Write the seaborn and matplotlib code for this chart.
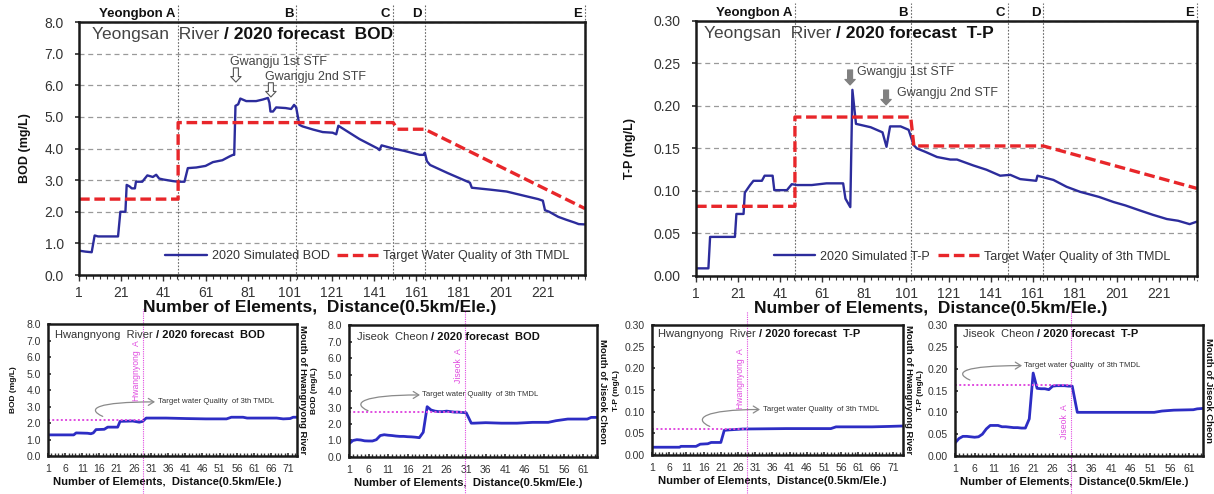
import numpy as np
import matplotlib
matplotlib.use('Agg')
import matplotlib.pyplot as plt
from matplotlib.path import Path
from matplotlib.patches import FancyArrowPatch
from matplotlib.ticker import FixedLocator, MultipleLocator, FormatStrFormatter
import seaborn as sns

# ==================================================================
# DATA
# ==================================================================
# --- Yeongsan River main stem, BOD (mg/L) ---
ys_bod_elem = [1, 4, 7, 8.4, 10, 19.5, 20.6, 23, 23.6, 25, 26, 27.5, 28, 31, 33.4, 35,
               36, 37.6, 39, 41, 45.5, 48, 51, 52.6, 56.6, 61, 64.5, 69, 72.4, 74,
               74.6, 75.2, 76.5, 77.5, 80.3, 85, 88.2, 90.6, 91.3, 91.8, 93, 94.5,
               99, 101.6, 103, 104, 105.5, 107, 112, 116.6, 121.3, 123, 124, 134,
               142.7, 143.5, 144.5, 150, 155, 162.6, 164.5, 165, 166, 167.5, 176, 186.4,
               187.3, 196, 203.8, 212.5, 218.8, 221, 222, 224, 228.3, 232, 236, 238, 241]
ys_bod_sim = [0.77, 0.74, 0.72, 1.25, 1.22, 1.22, 2.0, 2.0, 2.85, 2.8, 2.74, 2.74, 2.95,
              2.95, 3.15, 3.12, 3.1, 3.17, 3.05, 3.02, 2.97, 2.95, 2.95, 3.38, 3.4, 3.45,
              3.57, 3.63, 3.75, 3.8, 3.8, 5.35, 5.4, 5.58, 5.5, 5.5, 5.55, 5.6, 5.45,
              5.17, 5.17, 5.3, 5.28, 5.25, 5.38, 5.3, 4.75, 4.7, 4.6, 4.52, 4.5, 4.45,
              4.72, 4.3, 4.0, 3.95, 4.1, 4.0, 3.93, 3.8, 3.8, 3.87, 3.6, 3.48, 3.22, 2.92,
              2.76, 2.7, 2.64, 2.5, 2.4, 2.35, 2.05, 2.0, 1.84, 1.75, 1.66, 1.61, 1.6]
ys_bod_tgt_elem = [1, 48, 48, 150, 152, 165, 241]
ys_bod_tgt = [2.4, 2.4, 4.82, 4.82, 4.61, 4.61, 2.1]
ys_bod_sections = [48, 104, 150, 165, 241]

# --- Yeongsan River main stem, T-P (mg/L) ---
ys_tp_elem = [1, 6.9, 7.7, 19.5, 20.2, 23.6, 24.2, 26.7, 28.3, 32.3, 33.6, 37.4, 38.2,
              44.2, 46.5, 49, 56, 63, 70.9, 72, 74.3, 75.3, 77, 84, 89.6, 91.5, 93.2,
              98.2, 102, 104.4, 106, 110, 115.5, 121.8, 125, 132.8, 139, 145.5, 150.3,
              155, 162.6, 163.2, 170.8, 177, 183.5, 192.5, 199.4, 205, 212, 218,
              224.7, 230, 235.5, 239]
ys_tp_sim = [0.009, 0.009, 0.046, 0.046, 0.073, 0.073, 0.098, 0.107, 0.112, 0.112, 0.118,
             0.118, 0.101, 0.101, 0.108, 0.107, 0.107, 0.109, 0.109, 0.091, 0.081, 0.219,
             0.179, 0.175, 0.169, 0.152, 0.176, 0.176, 0.172, 0.154, 0.150, 0.146, 0.140,
             0.137, 0.137, 0.130, 0.125, 0.118, 0.119, 0.114, 0.112, 0.118, 0.113, 0.105,
             0.099, 0.093, 0.087, 0.083, 0.077, 0.072, 0.067, 0.065, 0.061, 0.064]
ys_tp_tgt_elem = [1, 48, 48, 103, 104.5, 166, 239]
ys_tp_tgt = [0.082, 0.082, 0.187, 0.187, 0.153, 0.153, 0.103]
ys_tp_sections = [48, 103, 149, 166, 239]

section_names = ['Yeongbon A', 'B', 'C', 'D', 'E']
stf_names = ['Gwangju 1st STF', 'Gwangju 2nd STF']

# --- Hwangnyong River ---
hw_bod_elem = [1, 8.5, 9.2, 12.5, 13.5, 14.2, 15, 17.4, 18.4, 21.3, 22, 25.7, 27.6, 28.6,
               29.6, 35.4, 41.3, 47, 53, 54.4, 57.8, 59, 67.6, 69.5, 71.5, 72.4, 73.5]
hw_bod = [1.28, 1.28, 1.4, 1.38, 1.35, 1.4, 1.6, 1.62, 1.75, 1.75, 2.1, 2.12, 2.05, 2.1,
          2.3, 2.3, 2.27, 2.25, 2.25, 2.35, 2.35, 2.3, 2.3, 2.25, 2.27, 2.35, 2.35]
hw_tp_elem = [1, 9, 9.4, 13.8, 15, 17.2, 18.2, 21, 22, 23.5, 27.4, 40, 53, 54.5, 65, 70, 74]
hw_tp = [0.018, 0.018, 0.02, 0.02, 0.025, 0.026, 0.029, 0.029, 0.057, 0.058, 0.060,
         0.061, 0.061, 0.065, 0.065, 0.066, 0.067]
hw_bod_target, hw_tp_target = 2.2, 0.061
hw_section = 28.7

# --- Jiseok Cheon ---
ji_elem = [1, 2, 3, 4, 5, 6, 7, 8, 9, 10, 11, 12, 13, 14, 15, 16, 17, 18, 19, 20, 21, 22,
           23, 24, 25, 26, 27, 28, 29, 30, 31, 32.3, 33, 36, 40, 44, 48, 52, 54, 57, 62,
           63, 64.5]
ji_bod = [0.8, 1.0, 1.05, 1.03, 0.98, 0.97, 0.97, 1.05, 1.3, 1.35, 1.32, 1.3, 1.27, 1.25,
          1.25, 1.23, 1.22, 1.2, 1.17, 1.5, 3.05, 2.85, 2.78, 2.75, 2.75, 2.78, 2.75, 2.72,
          2.72, 2.7, 2.68, 2.05, 2.05, 2.08, 2.05, 2.05, 2.1, 2.1, 2.2, 2.3, 2.3, 2.4, 2.4]
ji_tp = [0.03, 0.04, 0.045, 0.045, 0.044, 0.043, 0.044, 0.05, 0.062, 0.07, 0.07, 0.07,
         0.067, 0.067, 0.066, 0.065, 0.065, 0.064, 0.064, 0.085, 0.19, 0.155, 0.154, 0.154,
         0.152, 0.16, 0.161, 0.161, 0.161, 0.16, 0.16, 0.1, 0.1, 0.1, 0.1, 0.1, 0.1, 0.1,
         0.103, 0.105, 0.106, 0.108, 0.109]
ji_bod_target, ji_tp_target = 2.7, 0.163
ji_section = 30.8

# ==================================================================
# STYLE
# ==================================================================
SIM_BLUE = '#2c2c9c'
TGT_RED = '#e8262a'
MAG = '#e04ce0'
SUB_BLUE = '#2d2dc4'

sns.set_theme(style='white')
plt.rcParams['font.family'] = ['Liberation Sans', 'DejaVu Sans']

fig = plt.figure(figsize=(12.14, 4.94), dpi=100)
fig.patch.set_facecolor('white')


def frame(ax, lw=1.8):
    for s in ax.spines.values():
        s.set_visible(True)
        s.set_color('#1a1a1a')
        s.set_linewidth(lw)


def main_panel(ax, elem, sim, tgt_elem, tgt, sections, xmax, ymax, ystep, yfmt,
               param, title_x, ylabel_x, xlabel_x, leg_x, stf, hollow):
    ax.grid(axis='y', color='#9a9a9a', lw=0.9, ls=(0, (4, 3)))
    ax.set_axisbelow(True)
    n0 = len(ax.lines)
    sns.lineplot(x=elem, y=sim, ax=ax, color=SIM_BLUE, lw=1.7,
                 estimator=None, sort=False, legend=False)
    sns.lineplot(x=tgt_elem, y=tgt, ax=ax, color=TGT_RED, lw=2.4,
                 estimator=None, sort=False, legend=False)
    sim_line, tgt_line = ax.lines[n0], ax.lines[n0 + 1]
    tgt_line.set_linestyle((0, (3.2, 1.4)))

    for name, x in zip(section_names, sections):
        ax.axvline(x, ymin=-0.02, ymax=1.07, clip_on=False, color='#6a6a6a',
                   lw=0.8, ls=(0, (1.5, 1.5)), zorder=1)
        ax.annotate(name, xy=(x, 1), xycoords=('data', 'axes fraction'),
                    xytext=(-2, 6), textcoords='offset points', ha='right',
                    va='center', fontsize=9.5, fontweight='bold', color='#111',
                    annotation_clip=False)

    t = ax.text(title_x, 0.95, 'Yeongsan  River ', transform=ax.transAxes,
                fontsize=12.5, color='#444', va='center', ha='left')
    ax.annotate(f'/ 2020 forecast  {param}', xy=(1, 0.5), xycoords=t, fontsize=12.5,
                fontweight='bold', color='#111', va='center', ha='left')

    fc, ec = ('white', '#555') if hollow else ('#808080', '#808080')
    for name, (ax_x, y_top, y_tip, tx, ty) in zip(stf_names, stf):
        ax.annotate('', xy=(ax_x, y_tip), xytext=(ax_x, y_top),
                    arrowprops=dict(arrowstyle='simple,head_length=0.4,head_width=0.75,tail_width=0.36',
                                    fc=fc, ec=ec, lw=0.8, shrinkA=0, shrinkB=0,
                                    mutation_scale=10))
        ax.text(tx, ty, name, fontsize=9, color='#444', va='center', ha='left')

    ax.legend([sim_line, tgt_line],
              [f'2020 Simulated {param}', 'Target Water Quality of 3th TMDL'],
              loc='center', bbox_to_anchor=(leg_x, 0.075), ncol=2, frameon=False,
              fontsize=9, handlelength=3.3, handletextpad=0.4, columnspacing=0.6,
              labelcolor='#333')

    ax.set_xlim(1, xmax)
    ax.set_ylim(0, ymax)
    ax.xaxis.set_major_locator(FixedLocator(np.arange(1, 222, 20)))
    ax.xaxis.set_minor_locator(FixedLocator(np.arange(1, xmax + 0.1, 20 / 6)))
    ax.yaxis.set_major_locator(MultipleLocator(ystep))
    ax.yaxis.set_major_formatter(FormatStrFormatter(yfmt))
    ax.tick_params(which='both', bottom=True, left=True, direction='out',
                   color='#333', labelcolor='#333', labelsize=10)
    ax.tick_params(axis='x', which='major', length=4, width=1, pad=4)
    ax.tick_params(axis='x', which='minor', length=3, width=0.8)
    ax.tick_params(axis='y', which='major', length=3, pad=8)
    frame(ax)

    ax.set_xlabel('Number of Elements,  Distance(0.5km/Ele.)', fontsize=12.5,
                  fontweight='bold', color='#111')
    ax.xaxis.set_label_coords(xlabel_x, -0.1)
    ax.set_ylabel(f'{param} (mg/L)', fontsize=9, fontweight='bold', color='#111')
    ax.yaxis.set_label_coords(ylabel_x, 0.5)


def sub_panel(ax, elem, vals, target, sec_x, sec_name, sec_y, xmax, last_tick,
              ymax, ystep, yfmt, river, param, title_xy, mouth, swoosh):
    sns.lineplot(x=elem, y=vals, ax=ax, color=SUB_BLUE, lw=2.0,
                 estimator=None, sort=False, legend=False)
    sns.lineplot(x=[1, sec_x], y=[target, target], ax=ax, color=MAG, lw=1.4,
                 estimator=None, sort=False, legend=False)
    ax.lines[-1].set_linestyle((0, (1, 1.2)))
    ax.axvline(sec_x, ymin=-0.29, ymax=1.11, clip_on=False, color=MAG, lw=0.8,
               ls=(0, (1, 1)))
    ax.annotate(sec_name, xy=(sec_x, sec_y), xycoords=('data', 'axes fraction'),
                xytext=(-1.5, 0), textcoords='offset points', rotation=90,
                ha='right', va='center', fontsize=6.2, color=MAG)

    t = ax.text(title_xy[0], title_xy[1], f'{river} ', transform=ax.transAxes,
                fontsize=8, color='#333', va='center', ha='left')
    ax.annotate(f'/ 2020 forecast  {param}', xy=(1, 0.5), xycoords=t, fontsize=8,
                fontweight='bold', color='#111', va='center', ha='left')

    (x0, y0), (x3, y3) = swoosh
    verts = [(x0, y0), (x0 - 0.07, y0 + 0.06), (x0 - 0.02, y3), (x3, y3)]
    path = Path(verts, [Path.MOVETO, Path.CURVE4, Path.CURVE4, Path.CURVE4])
    ax.add_patch(FancyArrowPatch(path=path, arrowstyle='->,head_length=4,head_width=2.5',
                                 transform=ax.transAxes, color='#8a8a8a', lw=0.9))
    ax.text(x3 + 0.01, y3, 'Target water Quality  of 3th TMDL', transform=ax.transAxes,
            fontsize=5.6, color='#333', va='center', ha='left')

    ax.text(1.022, 0.5, mouth, transform=ax.transAxes, rotation=270, ha='center',
            va='center', fontsize=6.8, fontweight='bold', color='#111')

    ax.set_xlim(1, xmax)
    ax.set_ylim(0, ymax)
    ax.xaxis.set_major_locator(FixedLocator(np.arange(1, last_tick + 1, 5)))
    ax.xaxis.set_minor_locator(MultipleLocator(1))
    ax.yaxis.set_major_locator(MultipleLocator(ystep))
    ax.yaxis.set_major_formatter(FormatStrFormatter(yfmt))
    ax.tick_params(which='both', bottom=True, left=True, direction='in',
                   color='#333', labelcolor='#333', labelsize=7.5)
    ax.tick_params(axis='x', which='major', length=2.5, pad=6)
    ax.tick_params(axis='x', which='minor', length=2)
    ax.tick_params(axis='y', which='major', length=2, pad=5)
    frame(ax, 1.8)

    ax.set_xlabel('Number of Elements,  Distance(0.5km/Ele.)', fontsize=8.1,
                  fontweight='bold', color='#111')
    ax.xaxis.set_label_coords(0.48, -0.16)
    ax.set_ylabel(f'{param} (mg/L)', fontsize=6, fontweight='bold', color='#111')
    ax.yaxis.set_label_coords(-0.126, 0.5)


# ==================================================================
# MAIN PANELS
# ==================================================================
ax_bod = fig.add_axes([0.0651, 0.4433, 0.4168, 0.5121])
main_panel(ax_bod, ys_bod_elem, ys_bod_sim, ys_bod_tgt_elem, ys_bod_tgt,
           ys_bod_sections, 241, 8, 1, '%.1f', 'BOD', 0.026, -0.095, 0.476, 0.57,
           [(75.4, 6.55, 6.1, 72.6, 6.74), (92, 6.08, 5.63, 89.2, 6.27)], hollow=True)

ax_tp = fig.add_axes([0.5733, 0.4413, 0.4127, 0.5162])
main_panel(ax_tp, ys_tp_elem, ys_tp_sim, ys_tp_tgt_elem, ys_tp_tgt,
           ys_tp_sections, 239, 0.30, 0.05, '%.2f', 'T-P', 0.015, -0.12, 0.469, 0.551,
           [(74.2, 0.2424, 0.2247, 77.5, 0.240), (91.3, 0.2188, 0.2012, 96.5, 0.215)],
           hollow=False)

# ==================================================================
# TRIBUTARY PANELS
# ==================================================================
ax1 = fig.add_axes([0.0395, 0.0769, 0.2051, 0.2672])
sub_panel(ax1, hw_bod_elem, hw_bod, hw_bod_target, hw_section, 'Hwangnyong  A', 0.65,
          73.5, 71, 8, 1, '%.1f', 'Hwangnyong  River', 'BOD', (0.03, 0.92),
          'Mouth of Hwangnyong River', ((0.22, 0.30), (0.43, 0.41)))

ax2 = fig.add_axes([0.2875, 0.0749, 0.2043, 0.2672])
sub_panel(ax2, ji_elem, ji_bod, ji_bod_target, ji_section, 'Jiseok  A', 0.69,
          64.5, 61, 8, 1, '%.1f', 'Jiseok  Cheon', 'BOD', (0.032, 0.91),
          'Mouth of Jiseok Cheon', ((0.077, 0.35), (0.286, 0.47)))

ax3 = fig.add_axes([0.5371, 0.0789, 0.2068, 0.2632])
sub_panel(ax3, hw_tp_elem, hw_tp, hw_tp_target, hw_section, 'Hwangnyong  A', 0.59,
          74, 71, 0.30, 0.05, '%.2f', 'Hwangnyong  River', 'T-P', (0.024, 0.93),
          'Mouth of Hwangnyong River', ((0.23, 0.22), (0.43, 0.35)))

ax4 = fig.add_axes([0.7867, 0.0769, 0.2043, 0.2652])
sub_panel(ax4, ji_elem, ji_tp, ji_tp_target, ji_section, 'Jiseok  A', 0.26,
          64.5, 61, 0.30, 0.05, '%.2f', 'Jiseok  Cheon', 'T-P', (0.032, 0.93),
          'Mouth of Jiseok Cheon', ((0.06, 0.58), (0.27, 0.69)))

fig.savefig('out.png', dpi=100, facecolor='white')
